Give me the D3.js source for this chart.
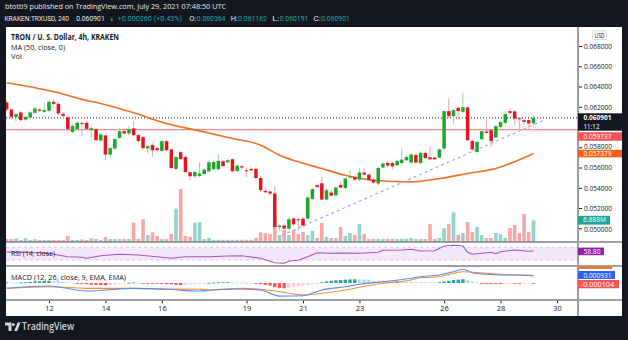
<!DOCTYPE html>
<html><head><meta charset="utf-8">
<script src="https://cdn.jsdelivr.net/npm/d3@7"></script>
<style>html,body{margin:0;padding:0;background:#131722;overflow:hidden}</style>
</head><body>
<svg id="c" width="628" height="340"></svg>
<script>
// ---------------- DATA ----------------
const firstBar = Date.UTC(2021, 6, 10, 12); // 4h bars, KRAKEN TRXUSD
const barMs = 4 * 3600 * 1000;
const open = [0.06243,0.06173,0.06100,0.06144,0.06074,0.06094,0.06140,0.06173,0.06150,0.06160,
0.06249,0.06229,0.06130,0.06094,0.05952,0.05979,0.06041,0.06041,0.05969,0.05979,
0.05867,0.05917,0.05728,0.05788,0.05893,0.05959,0.05936,0.05986,0.05920,0.05900,
0.05788,0.05823,0.05791,0.05764,0.05860,0.05778,0.05586,0.05751,0.05704,0.05553,
0.05514,0.05517,0.05536,0.05563,0.05583,0.05583,0.05662,0.05652,0.05682,0.05566,
0.05612,0.05573,0.05586,0.05586,0.05497,0.05369,0.05363,0.05343,0.05013,0.05027,
0.04997,0.05096,0.05089,0.05096,0.05096,0.05290,0.05425,0.05445,0.05284,0.05353,
0.05326,0.05428,0.05398,0.05501,0.05507,0.05481,0.05550,0.05530,0.05481,0.05442,
0.05600,0.05645,0.05645,0.05622,0.05645,0.05672,0.05649,0.05724,0.05645,0.05744,
0.05701,0.05698,0.05698,0.05788,0.06157,0.06107,0.06189,0.06150,0.06193,0.05863,
0.05754,0.05880,0.05956,0.05969,0.05897,0.06001,0.06041,0.06157,0.06154,0.06087,
0.06068,0.06068,0.060364];
const high = [0.06266,0.06186,0.06137,0.06157,0.06117,0.06157,0.06196,0.06186,0.06239,0.06266,
0.06273,0.06246,0.06147,0.06117,0.06028,0.06058,0.06048,0.06058,0.06008,0.05998,
0.05939,0.05929,0.05801,0.05890,0.05995,0.05969,0.06011,0.06058,0.05929,0.05910,
0.05820,0.05840,0.05811,0.05870,0.05870,0.05791,0.05721,0.05761,0.05721,0.05563,
0.05573,0.05655,0.05593,0.05672,0.05672,0.05728,0.05672,0.05692,0.05692,0.05632,
0.05622,0.05593,0.05603,0.05603,0.05514,0.05408,0.05376,0.05414,0.05039,0.05039,
0.05109,0.05109,0.05099,0.05109,0.05316,0.05405,0.05445,0.05507,0.05395,0.05376,
0.05415,0.05458,0.05504,0.05573,0.05524,0.05593,0.05600,0.05543,0.05494,0.05612,
0.05652,0.05662,0.05662,0.05682,0.05788,0.05721,0.05741,0.05741,0.05761,0.05761,
0.05811,0.05711,0.05791,0.06167,0.06283,0.06176,0.06206,0.06338,0.06206,0.05870,
0.05860,0.05969,0.06087,0.05979,0.06018,0.06058,0.06157,0.06183,0.06167,0.06097,
0.06077,0.06077,0.061162];
const low = [0.06157,0.06077,0.06051,0.06058,0.06058,0.06077,0.06127,0.06147,0.06137,0.06147,
0.06216,0.06117,0.06087,0.05959,0.05939,0.05969,0.05910,0.05969,0.05897,0.05860,
0.05850,0.05672,0.05688,0.05771,0.05880,0.05929,0.05920,0.05910,0.05850,0.05771,
0.05738,0.05704,0.05751,0.05751,0.05761,0.05583,0.05573,0.05672,0.05543,0.05475,
0.05494,0.05504,0.05524,0.05553,0.05573,0.05573,0.05603,0.05642,0.05553,0.05553,
0.05583,0.05507,0.05563,0.05484,0.05356,0.05346,0.05326,0.05000,0.04981,0.04954,
0.04981,0.05020,0.04974,0.05010,0.05089,0.05277,0.05395,0.05277,0.05277,0.05316,
0.05316,0.05395,0.05386,0.05494,0.05465,0.05465,0.05524,0.05465,0.05435,0.05425,
0.05593,0.05603,0.05583,0.05612,0.05632,0.05662,0.05642,0.05642,0.05632,0.05682,
0.05672,0.05672,0.05692,0.05778,0.06087,0.06035,0.06068,0.06137,0.05860,0.05771,
0.05741,0.05870,0.05929,0.05801,0.05890,0.05959,0.06028,0.06127,0.06018,0.05969,
0.06028,0.05979,0.060191];
const close = [0.06173,0.06100,0.06127,0.06068,0.06100,0.06144,0.06183,0.06160,0.06167,0.06249,
0.06229,0.06134,0.06110,0.05979,0.06011,0.06041,0.06035,0.05982,0.05988,0.05870,
0.05926,0.05728,0.05791,0.05880,0.05959,0.05936,0.05979,0.05920,0.05863,0.05791,
0.05811,0.05771,0.05771,0.05860,0.05771,0.05596,0.05704,0.05684,0.05556,0.05514,
0.05556,0.05540,0.05580,0.05652,0.05655,0.05665,0.05615,0.05672,0.05563,0.05619,
0.05600,0.05563,0.05573,0.05497,0.05376,0.05356,0.05343,0.05013,0.05027,0.04997,
0.05089,0.05039,0.05079,0.05027,0.05304,0.05386,0.05408,0.05284,0.05376,0.05323,
0.05402,0.05402,0.05491,0.05514,0.05481,0.05550,0.05530,0.05475,0.05452,0.05596,
0.05639,0.05619,0.05612,0.05665,0.05678,0.05704,0.05728,0.05649,0.05744,0.05694,
0.05682,0.05682,0.05778,0.06157,0.06107,0.06167,0.06157,0.06196,0.05870,0.05778,
0.05853,0.05959,0.05942,0.05860,0.06008,0.06048,0.06127,0.06140,0.06084,0.06077,
0.06051,0.06035,0.060901];
// volume in millions
const volume = [0.95,0.95,1.17,0.64,1.17,0.64,0.86,0.64,0.64,0.64,
0.64,0.64,0.64,1.9,0.64,0.64,0.8,0.64,1.17,0.95,
0.64,1.59,0.95,0.95,0.95,0.95,0.95,6.13,0.95,7.2,
2.22,3.08,1.9,0.95,0.95,2.54,10.57,16.83,1.9,1.68,
6.13,6.35,0.95,1.27,0.7,0.7,0.7,0.7,0.7,0.7,
0.7,0.7,0.7,1.27,3.08,2.76,2.54,7.9,2.2,3.8,
2.2,3.8,2.5,3.2,2.2,3.5,1.27,6.0,1.6,1.27,
1.27,4.76,1.9,2.86,2.22,5.7,2.54,1.0,1.0,1.0,
1.0,1.0,1.0,1.0,1.0,1.0,1.27,0.95,0.95,0.95,
5.7,0.95,1.27,4.35,5.7,9.43,2.22,2.86,6.35,3.17,
4.76,2.13,1.27,1.27,2.86,2.44,1.27,4.44,5.4,2.76,
8.9,3.17,6.888];
// MA(50) read at bar numbers
const maBars = [1,6,12,17,21,28,35,42,49,55,59,63,68,73,79,87,93,99,105,109,113];
const maValues = [0.06437,0.06397,0.06338,0.06273,0.06233,0.06140,0.06035,0.05962,0.05887,0.05821,
0.05722,0.05656,0.05590,0.05524,0.05475,0.05458,0.05491,0.05541,0.05590,0.05656,0.057379];
// RSI(14) read at bar numbers
const rsiBars = [1,4,8,11,14,17,18,21,25,29,34,36,39,42,44,48,51,55,58,60,61,63,65,67,70,73,76,80,81,85,87,89,92,94,96,98,99,100,104,105,106,109,112,113];
const rsiValues = [55,54,53,48,40,38.5,35.4,43.5,48,45.7,38.5,35.4,40.4,40.4,40.4,42.6,43.5,35.4,21.5,19.6,26.9,29.1,40.4,53,51.1,52,51.1,54.3,60.6,61.5,63.7,58.3,59.3,74,76.3,74,54.3,48,54.3,49.8,56.1,61.5,57.4,58.8];
// MACD(12,26,9) lines, in thousandths, read at bar numbers
const macdBars = [1,10,18,28,35,42,44,51,55,59,64,68,73,76,81,87,89,93,96,98,100,103,106,110,113];
const macdLine = [-0.70,-0.40,-1.07,-0.71,-0.84,-1.07,-0.97,-0.80,-0.93,-1.75,-1.69,-0.93,-0.49,-0.17,0.17,0.63,0.84,1.07,1.51,1.83,1.37,1.16,1.07,1.07,0.931];
const signalLine = [-0.72,-0.49,-0.71,-0.71,-0.80,-0.84,-0.93,-0.71,-0.84,-1.15,-1.60,-1.37,-0.93,-0.57,-0.04,0.40,0.71,0.84,1.29,1.51,1.43,1.29,1.16,1.07,1.035];
// MACD histogram per bar, in ten-thousandths
const histogram = [0.8,0.6,0.5,0.6,1.0,1.5,2.0,2.4,2.8,3.0,2.6,2.0,
1.4,0.9,0.4,-0.3,-0.8,-1.5,-2.2,-2.5,-2.8,-3.0,-2.6,-2.0,
-1.2,-0.5,0.3,0.8,0.4,-0.2,-0.6,-0.8,-1.0,-1.2,-1.5,-1.8,
-2.5,-2.8,-2.4,-1.8,-1.2,-0.6,-0.2,0.3,0.5,0.8,1.0,1.0,0.8,0.7,
0.5,0.3,0.1,-0.5,-1.5,-2.5,-3.5,-5.5,-6.5,-7.0,-6.5,-5.5,
-4.5,-3.5,-2.5,-1.5,-0.5,1.0,2.0,2.8,3.5,4.0,4.5,4.8,5.0,4.8,4.5,4.0,
3.2,2.8,2.4,2.2,2.0,2.0,1.8,1.6,1.5,1.4,1.2,1.0,0.9,0.8,1.0,
2.0,3.0,4.0,4.5,5.0,3.5,2.0,0.8,
-0.3,-0.6,-0.9,-1.2,-1.3,-1.2,-1.0,-1.1,-1.2,-1.1,-1.0,-1.04];
// trend line (two anchor points)
const trendTimes = [Date.UTC(2021,6,20,6), Date.UTC(2021,6,29,13)];
const trendPrices = [0.04931, 0.06068];
const lastPrice = 0.060901, levelPrice = 0.059737, maLast = 0.057379;
const priceTicks = [0.050,0.052,0.054,0.056,0.058,0.062,0.064,0.066,0.068];
const dateTicks = [12,14,16,19,21,23,26,28,30].map(d => Date.UTC(2021,6,d));
const headerSegments = [
  ['KRAKEN:TRXUSD, 240', 'w'], ['0.060901', 'w'], ['▲', 't'], ['+0.000260 (+0.43%)', 't'],
  ['O:', 'w'], ['0.060364', 't'], ['H:', 'w'], ['0.061162', 't'], ['L:', 'w'], ['0.060191', 't'], ['C:', 'w'], ['0.060901', 't']];

// ---------------- LAYOUT ----------------
const svg = d3.select('#c');
const F = "'Open Sans','Noto Sans',Arial,sans-serif";
const PL = 6, PR = 578, AR = 622, TOP = 27, MB = 242, RB = 266, CB = 300, DB = 316;
const barDate = n => new Date(firstBar + (n - 1) * barMs);
const bars = open.map((o, i) => ({n: i + 1, t: barDate(i + 1), o, h: high[i], l: low[i], c: close[i], v: volume[i]}));

const x = d3.scaleUtc().domain([Date.UTC(2021,6,12), Date.UTC(2021,6,30)]).range([49, 557]);
const y = d3.scaleLinear().domain([0.050, 0.068]).range([228.3, 46]);
const yv = d3.scaleLinear().domain([0, 20]).range([MB, MB - 63]);
const yr = d3.scaleLinear().domain([30, 70]).range([260, 247.3]);
const ym = d3.scaleLinear().domain([-1, 1]).range([290.5, 275.5]);
const yh = d3.scaleLinear().domain([-10, 10]).range([290.5, 275.5]);

function txt(g, s, px, py, o = {}) {
  const t = g.append('text').attr('x', px).attr('y', py).text(s)
    .attr('font-family', o.family || F).attr('font-size', o.size || 7.5)
    .attr('fill', o.fill || '#131722').attr('font-weight', o.weight || 'normal')
    .attr('text-anchor', o.anchor || 'start');
  if (o.len) t.attr('textLength', o.len).attr('lengthAdjust', 'spacingAndGlyphs');
  return t;
}

// background panel
svg.append('rect').attr('width', 628).attr('height', 340).attr('fill', '#131722');
svg.append('rect').attr('x', PL).attr('y', TOP).attr('width', AR - PL).attr('height', DB - TOP).attr('fill', '#ffffff');

const defs = svg.append('defs');
const clip = (id, y0, y1) => defs.append('clipPath').attr('id', id).append('rect')
  .attr('x', PL).attr('y', y0).attr('width', PR - PL).attr('height', y1 - y0);
clip('cm', TOP, MB); clip('cr', MB, RB); clip('cd', RB, CB);

// ---------- main pane ----------
const gm = svg.append('g').attr('clip-path', 'url(#cm)');
const bw = 3.5;
gm.selectAll('rect.vol').data(bars).join('rect').attr('class', 'vol')
  .attr('x', d => x(d.t) - 1.8).attr('width', 3.6)
  .attr('y', d => yv(d.v)).attr('height', d => MB - yv(d.v))
  .attr('fill', d => d.c >= d.o ? '#93d3cb' : '#f7a8a6');
gm.append('line').attr('x1', PL).attr('x2', PR).attr('y1', y(levelPrice)).attr('y2', y(levelPrice))
  .attr('stroke', '#f48c8a').attr('stroke-width', 1.2);
gm.append('line').attr('x1', PL).attr('x2', PR).attr('y1', y(lastPrice)).attr('y2', y(lastPrice))
  .attr('stroke', '#131722').attr('stroke-width', 1).attr('stroke-dasharray', '1,2');
gm.append('path').datum(maBars.map((b, i) => [barDate(b), maValues[i]]))
  .attr('d', d3.line().x(d => x(d[0])).y(d => y(d[1])).curve(d3.curveMonotoneX))
  .attr('fill', 'none').attr('stroke', '#f36f21').attr('stroke-width', 1.6);
gm.append('line').attr('x1', x(trendTimes[0])).attr('y1', y(trendPrices[0]))
  .attr('x2', x(trendTimes[1])).attr('y2', y(trendPrices[1]))
  .attr('stroke', '#93b2f2').attr('stroke-width', 1.2).attr('stroke-dasharray', '3,3');
gm.selectAll('line.wick').data(bars).join('line').attr('class', 'wick')
  .attr('x1', d => x(d.t)).attr('x2', d => x(d.t)).attr('y1', d => y(d.h)).attr('y2', d => y(d.l))
  .attr('stroke', d => d.c >= d.o ? '#9fd5a2' : '#f4a4a6').attr('stroke-width', 1);
gm.selectAll('rect.body').data(bars).join('rect').attr('class', 'body')
  .attr('x', d => x(d.t) - bw / 2).attr('width', bw)
  .attr('y', d => y(Math.max(d.o, d.c))).attr('height', d => Math.max(1, Math.abs(y(d.o) - y(d.c))))
  .attr('fill', d => d.c >= d.o ? '#1fa52c' : '#e2161e');

txt(svg, 'TRON / U. S. Dollar, 4h, KRAKEN', 11, 39.5, {weight: 'bold', size: 8, len: 108});
txt(svg, 'MA (50, close, 0)', 11, 49.5, {size: 7.8, len: 54});
txt(svg, 'Vol', 11, 58.8, {size: 7.8, len: 11});

// ---------- RSI pane ----------
const gr = svg.append('g').attr('clip-path', 'url(#cr)');
gr.append('rect').attr('x', PL).attr('width', PR - PL).attr('y', yr(70)).attr('height', yr(30) - yr(70)).attr('fill', '#f3e9fb');
[70, 30].forEach(v => gr.append('line').attr('x1', PL).attr('x2', PR).attr('y1', yr(v)).attr('y2', yr(v))
  .attr('stroke', '#c9c2cf').attr('stroke-dasharray', '3,3').attr('stroke-width', 0.8));
gr.append('path').datum(rsiBars.map((b, i) => [barDate(b), rsiValues[i]]))
  .attr('d', d3.line().x(d => x(d[0])).y(d => yr(d[1])))
  .attr('fill', 'none').attr('stroke', '#ab4fc6').attr('stroke-width', 1.1);
txt(svg, 'RSI (14, close)', 11, 255.5, {size: 7.6, len: 44});

// ---------- MACD pane ----------
const gd = svg.append('g').attr('clip-path', 'url(#cd)');
gd.selectAll('rect.h').data(histogram).join('rect').attr('class', 'h')
  .attr('x', (d, i) => x(barDate(i + 1)) - 1.7).attr('width', 3.4)
  .attr('y', d => Math.min(yh(d), yh(0))).attr('height', d => Math.max(0.8, Math.abs(yh(d) - yh(0))))
  .attr('fill', (d, i) => {
    const p = i > 0 ? histogram[i - 1] : d;
    if (d >= 0) return d >= p ? '#26a69a' : '#b2dfdb';
    return d <= p ? '#ff5252' : '#ffcdd2';
  });
gd.append('path').datum(macdBars.map((b, i) => [barDate(b), signalLine[i]]))
  .attr('d', d3.line().x(d => x(d[0])).y(d => ym(d[1])).curve(d3.curveMonotoneX))
  .attr('fill', 'none').attr('stroke', '#ff8c3a').attr('stroke-width', 1.1);
gd.append('path').datum(macdBars.map((b, i) => [barDate(b), macdLine[i]]))
  .attr('d', d3.line().x(d => x(d[0])).y(d => ym(d[1])).curve(d3.curveMonotoneX))
  .attr('fill', 'none').attr('stroke', '#5b8def').attr('stroke-width', 1.1);
txt(svg, 'MACD (12, 26, close, 9, EMA, EMA)', 11, 279.5, {size: 7.6, len: 115});

// ---------- separators / axes ----------
[MB, RB, CB].forEach(v => svg.append('line').attr('x1', PL).attr('x2', AR).attr('y1', v).attr('y2', v)
  .attr('stroke', '#7d8089').attr('stroke-width', 1.6));
svg.append('line').attr('x1', PR).attr('x2', PR).attr('y1', TOP).attr('y2', DB)
  .attr('stroke', '#9a9da5').attr('stroke-width', 2);

const pa = svg.append('g').attr('transform', `translate(${PR + 1},0)`)
  .call(d3.axisRight(y).tickValues(priceTicks).tickFormat(d3.format('.6f')).tickSize(3).tickPadding(2));
pa.select('.domain').remove();
pa.selectAll('line').attr('stroke', '#131722');
pa.selectAll('text').attr('font-family', F).attr('font-size', 7.2).attr('fill', '#131722')
  .attr('textLength', 28).attr('lengthAdjust', 'spacingAndGlyphs');
// labels partly covered by tags in the original
pa.selectAll('text').filter(d => d === 0.058).attr('dy', '0.1em');
pa.selectAll('text').filter(d => d === 0.050).attr('dy', '0.5em');

svg.append('rect').attr('x', 592.5).attr('y', 31).attr('width', 14).attr('height', 8.5).attr('rx', 1.5)
  .attr('fill', '#fff').attr('stroke', '#d0d3da').attr('stroke-width', 0.8);
txt(svg, 'USD', 599.5, 37.6, {size: 6.2, anchor: 'middle', len: 10});

function tag(yc, h, fill, w = 44) {
  svg.append('rect').attr('x', PR).attr('y', yc - h / 2).attr('width', w).attr('height', h).attr('fill', fill);
}
svg.append('rect').attr('x', PR).attr('y', 113.3).attr('width', 44).attr('height', 17.4).attr('fill', '#131722');
txt(svg, d3.format('.6f')(lastPrice), 583.5, 120.3, {fill: '#fff', size: 7, len: 28, weight: 'bold'});
txt(svg, '11:12', 583.5, 128.6, {fill: '#fff', size: 6.6, len: 16});
tag(136.5, 8.6, '#f05558');
txt(svg, d3.format('.6f')(levelPrice), 583.5, 139.3, {fill: '#fff', size: 7.2, len: 28});
tag(y(maLast), 7.6, '#f2621b');
txt(svg, d3.format('.6f')(maLast), 583.5, y(maLast) + 2.7, {fill: '#fff', size: 6.8, len: 28});
svg.append('rect').attr('x', PR).attr('y', 215.8).attr('width', 32).attr('height', 8.8).attr('fill', '#22a597');
txt(svg, d3.format('.3f')(volume[volume.length - 1]) + 'M', 583, 222.4, {fill: '#fff', size: 6.8, len: 23});
svg.append('rect').attr('x', PR).attr('y', 247.6).attr('width', 26).attr('height', 7.6).attr('fill', '#8f22a8');
txt(svg, rsiValues[rsiValues.length - 1].toFixed(2), 583.5, 254, {fill: '#fff', size: 7, len: 17});
svg.append('rect').attr('x', PR).attr('y', 266.8).attr('width', 34).attr('height', 2).attr('fill', '#ff6d00');
svg.append('rect').attr('x', PR).attr('y', 271).attr('width', 37).attr('height', 8).attr('fill', '#2962ff');
txt(svg, (macdLine[macdLine.length - 1] / 1000).toFixed(6), 583.5, 277.6, {fill: '#fff', size: 7, len: 28});
svg.append('rect').attr('x', PR).attr('y', 280).attr('width', 41).attr('height', 8.3).attr('fill', '#ff5252');
txt(svg, (histogram[histogram.length - 1] / 10000).toFixed(6), 581, 286.8, {fill: '#fff', size: 7, len: 33});

const da = svg.append('g').attr('transform', `translate(0,${CB + 0.8})`)
  .call(d3.axisBottom(x).tickValues(dateTicks).tickFormat(d3.utcFormat('%-d')).tickSize(2.5).tickPadding(2));
da.select('.domain').remove();
da.selectAll('line').attr('stroke', '#131722');
da.selectAll('text').attr('font-family', F).attr('font-size', 7.5).attr('fill', '#131722');

// ---------- header ----------
txt(svg, 'btotti9 published on TradingView.com, July 29, 2021 07:48:50 UTC', 5, 9.3, {fill: '#e6e8ee', size: 8, len: 221});
{
  const cw = 3.77; let cx = 4.5;
  headerSegments.forEach(([s, c]) => {
    const n = [...s].length;
    txt(svg, s, cx, 20.6, {fill: c === 'w' ? '#e6e8ee' : '#26a69a', size: 7, len: n * cw * 0.95,
      family: "Roboto,'Open Sans',sans-serif"});
    cx += n * cw + (s.endsWith(':') ? 0 : cw);
  });
}

// ---------- footer ----------
const lg = svg.append('g').attr('fill', '#d1d4dc');
lg.append('path').attr('d', 'M5,322.5h6.5v8.5h-3v-5.5h-3.5z');
lg.append('circle').attr('cx', 13.3).attr('cy', 324.4).attr('r', 1.5);
lg.append('path').attr('d', 'M14.2,331l3.4,-8.5h3l-3.4,8.5z');
txt(svg, 'TradingView', 22, 330.3, {fill: '#d1d4dc', size: 10, len: 52, weight: '600'});
</script>
</body></html>
